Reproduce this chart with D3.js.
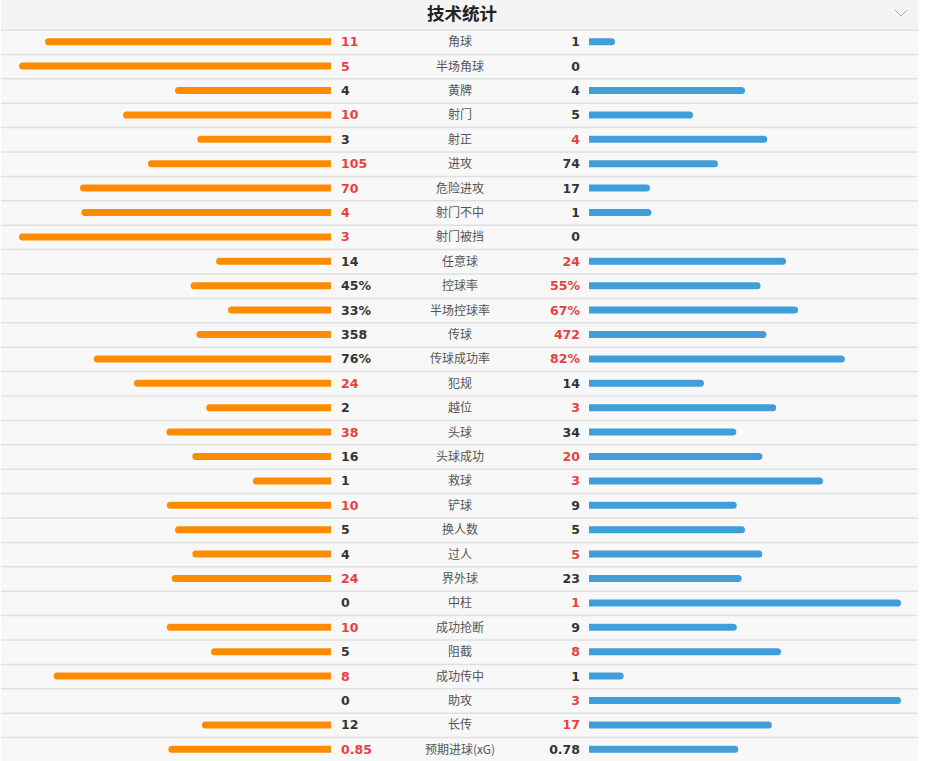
<!DOCTYPE html>
<html><head><meta charset="utf-8">
<script src="https://cdn.jsdelivr.net/npm/d3@7"></script>
<style>body{margin:0;background:#fff}</style>
</head><body>
<script>
const title = "技术统计";
const categories = ["角球","半场角球","黄牌","射门","射正","进攻","危险进攻","射门不中","射门被挡","任意球","控球率","半场控球率","传球","传球成功率","犯规","越位","头球","头球成功","救球","铲球","换人数","过人","界外球","中柱","成功抢断","阻截","成功传中","助攻","长传","预期进球(xG)"];
const homeValues = [11,5,4,10,3,105,70,4,3,14,45,33,358,76,24,2,38,16,1,10,5,4,24,0,10,5,8,0,12,0.85];
const awayValues = [1,0,4,5,4,74,17,1,0,24,55,67,472,82,14,3,34,20,3,9,5,5,23,1,9,8,1,3,17,0.78];
const homeLabels = ["11","5","4","10","3","105","70","4","3","14","45%","33%","358","76%","24","2","38","16","1","10","5","4","24","0","10","5","8","0","12","0.85"];
const awayLabels = ["1","0","4","5","4","74","17","1","0","24","55%","67%","472","82%","14","3","34","20","3","9","5","5","23","1","9","8","1","3","17","0.78"];

const W = 925, H = 761;
const svg = d3.select("body").append("svg").attr("width", W).attr("height", H);

const top0 = 29.5, rowH = 24.4;
const y = d3.scaleBand().domain(d3.range(categories.length)).range([top0, top0 + rowH*categories.length]).padding(0);
const maxLen = 312;
const len = d3.scaleLinear().domain([0,1]).range([0,maxLen]);
const homeEnd = 331, awayStart = 589;

// header
svg.append("rect").attr("x",1).attr("y",0).attr("width",917).attr("height",top0).attr("fill","#f4f4f4");
svg.append("text").attr("x",462).attr("y",20).attr("text-anchor","middle")
  .attr("font-family","'Noto Sans CJK SC',sans-serif").attr("font-weight","bold").attr("font-size",17.5).attr("fill","#222").text(title);
svg.append("path").attr("d","M895,10 L901,16 L907,10").attr("fill","none").attr("stroke","#aaa").attr("stroke-width",1);

const rows = svg.selectAll("g.row").data(categories).join("g").attr("class","row")
  .attr("transform",(d,i)=>`translate(0,${y(i)})`);
rows.append("rect").attr("x",1).attr("y",0).attr("width",917).attr("height",y.bandwidth()).attr("fill","#f8f8f8");
rows.append("line").attr("x1",1).attr("x2",918).attr("y1",0.5).attr("y2",0.5).attr("stroke","#e0e0e0").attr("stroke-width",1.5);

const cy = rowH/2;
function frac(i, side){
  const v = side==="h" ? homeValues[i] : awayValues[i];
  if (homeLabels[i].endsWith("%")) return v/100;
  const s = homeValues[i] + awayValues[i];
  if (s === 0) return 0;
  return v / s;
}
function barPath(x0, x1, yc, h, roundLeft){
  const r = h/2;
  const w = x1 - x0;
  if (w <= 0) return "";
  const rr = Math.min(r, w);
  if (roundLeft){
    return `M${x1},${yc-r} L${x0+rr},${yc-r} A${rr},${r} 0 0 0 ${x0+rr},${yc+r} L${x1},${yc+r} Z`;
  } else {
    return `M${x0},${yc-r} L${x1-rr},${yc-r} A${rr},${r} 0 0 1 ${x1-rr},${yc+r} L${x0},${yc+r} Z`;
  }
}
rows.append("path").attr("fill","#ff8c00")
  .attr("d",(d,i)=>barPath(homeEnd - len(frac(i,"h")), homeEnd, cy, 7, true));
rows.append("path").attr("fill","#409edb")
  .attr("d",(d,i)=>barPath(awayStart, awayStart + len(frac(i,"a")), cy, 7, false));

const valFont = "'DejaVu Sans',Verdana,sans-serif";
rows.append("text").attr("x",341).attr("y",cy+4.5).attr("font-family",valFont).attr("font-weight","bold").attr("font-size",12.5)
  .attr("fill",(d,i)=>homeValues[i]>awayValues[i]?"#e8413f":"#333").text((d,i)=>homeLabels[i]);
rows.append("text").attr("x",580).attr("y",cy+4.5).attr("text-anchor","end").attr("font-family",valFont).attr("font-weight","bold").attr("font-size",12.5)
  .attr("fill",(d,i)=>awayValues[i]>homeValues[i]?"#e8413f":"#333").text((d,i)=>awayLabels[i]);
rows.append("text").attr("x",460).attr("y",cy+4.5).attr("text-anchor","middle").attr("font-family","'Noto Sans CJK SC',sans-serif").attr("font-size",12)
  .attr("fill","#555").text(d=>d);
</script>
</body></html>
